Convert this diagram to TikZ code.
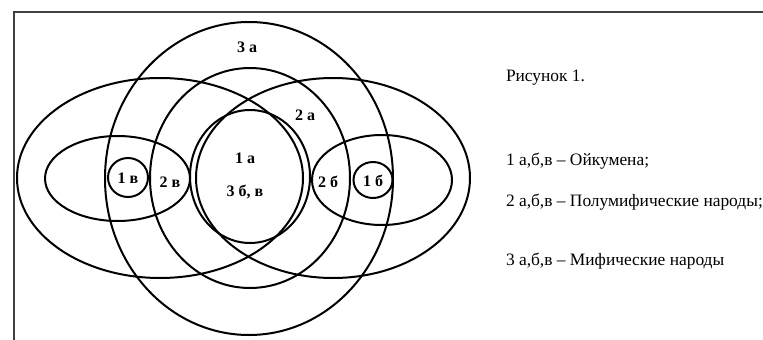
\documentclass[tikz,border=0pt]{standalone}
\usepackage{fontspec}
\setmainfont{Liberation Serif}

\begin{document}
\begin{tikzpicture}[x=1pt, y=-1pt, line width=2pt,
    zone/.style={font=\fontsize{16}{18}\selectfont\bfseries, inner sep=0pt},
    legend/.style={font=\fontsize{17.4}{19}\selectfont, anchor=west, inner sep=0pt}]
    \useasboundingbox (0,0) rectangle (763,340);

    % Draw the page frame
    \coordinate (FB) at (14,340);
    \coordinate (FC) at (14,12);
    \coordinate (FR) at (763,12);
    \draw[line width=1.3pt, black!75] (FB) -- (FC) -- (FR);

    % Define the centres of the areas
    \coordinate (M3) at (249,178.5);  % Mythical peoples
    \coordinate (M2) at (250,178);    % Half-mythical peoples
    \coordinate (M1) at (250,176.5);  % Oikumene
    \coordinate (L) at (160,178);     % Left big ellipse
    \coordinate (R) at (333,178);     % Right big ellipse
    \coordinate (LS) at (117.5,178.5);
    \coordinate (RS) at (382,180);
    \coordinate (LT) at (128,177.5);
    \coordinate (RT) at (373,180);

    % Draw the big vertical ellipses
    \draw (M3) ellipse [x radius=144pt, y radius=156.5pt];
    \draw (M2) ellipse [x radius=100pt, y radius=110pt];
    \draw (M1) ellipse [x radius=60pt, y radius=66.5pt];

    % Draw the big horizontal ellipses
    \draw (L) ellipse [x radius=143pt, y radius=100pt];
    \draw (R) ellipse [x radius=137pt, y radius=100pt];

    % Draw the small side ellipses and circles
    \draw (LS) ellipse [x radius=72.5pt, y radius=42.5pt];
    \draw (RS) ellipse [x radius=70pt, y radius=45pt];
    \draw (LT) ellipse [x radius=20pt, y radius=19.5pt];
    \draw (RT) ellipse [x radius=19.5pt, y radius=18pt];

    % Add the area labels
    \node[zone] (l3a) at (247,47) {3 а};
    \node[zone] (l2a) at (305,115) {2 а};
    \node[zone] (l1a) at (245,158) {1 а};
    \node[zone] (l3bv) at (245,192) {3 б, в};
    \node[zone] (l1v) at (128,178) {1 в};
    \node[zone] (l2v) at (170,182) {2 в};
    \node[zone] (l2b) at (328,182) {2 б};
    \node[zone] (l1b) at (373,181) {1 б};

    % Add the legend
    \node[legend] (title) at (505,78) {Рисунок 1.};
    \node[legend] (key1) at (505,161) {1 а,б,в – Ойкумена;};
    \node[legend] (key2) at (505,202) {2 а,б,в – Полумифические народы;};
    \node[legend] (key3) at (505,261) {3 а,б,в – Мифические народы};
\end{tikzpicture}
\end{document}
